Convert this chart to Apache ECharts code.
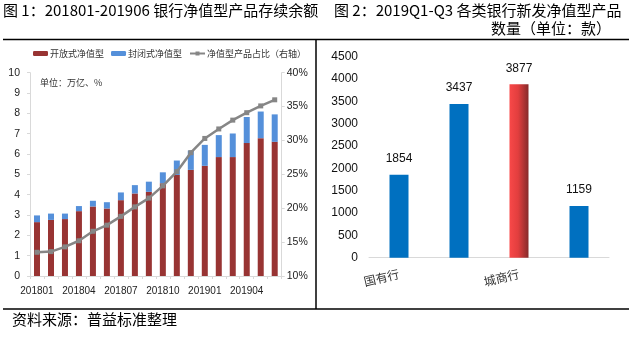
<!DOCTYPE html>
<html><head><meta charset="utf-8">
<script src="https://cdn.jsdelivr.net/npm/echarts@6/dist/echarts.min.js"></script>
<style>html,body{margin:0;padding:0;background:#fff}#c{width:636px;height:338px}</style>
</head><body><div id="c"></div>
<script>
const months = ['201801','201802','201803','201804','201805','201806','201807','201808','201809','201810','201811','201812','201901','201902','201903','201904','201905','201906'];
const openVals = [2.65,2.76,2.80,3.19,3.42,3.32,3.73,4.06,4.14,4.56,4.97,5.22,5.42,5.85,5.85,6.54,6.78,6.60];
const closedVals = [0.33,0.31,0.27,0.25,0.28,0.31,0.38,0.41,0.50,0.54,0.71,0.95,1.03,1.08,1.16,1.28,1.31,1.35];
const shareVals = [13.5,13.6,14.3,15.2,16.6,17.5,18.8,20.2,21.5,23.3,25.4,28.2,30.3,31.7,33.0,34.1,35.1,36.0];
const bankTypes = ['国有行','股份行','城商行','农商行'];
const newCounts = [1854,3437,3877,1159];
const leftTicks = {min:0,max:10,interval:1};
const rightTicks = {min:10,max:40,interval:5};
const cntTicks = {min:0,max:4500,interval:500};

const chart = echarts.init(document.getElementById('c'), null, {renderer:'canvas'});
const narrow = "'Liberation Sans Narrow','Arial Narrow','Liberation Sans',Arial,sans-serif";
const cjk = "'Noto Sans CJK SC',sans-serif";
const gridLine = {lineStyle:{color:'#D9D9D9',width:1}};
const titleStyle = (t, size) => ({text:t, fontSize:size, fontFamily:cjk, fill:'#000'});

chart.setOption({
  animation:false,
  legend:{
    left:28, top:44, itemWidth:15, itemHeight:5, itemGap:7,
    textStyle:{fontSize:9, color:'#333', fontFamily:cjk, padding:[0,0,0,-3]},
    data:['开放式净值型','封闭式净值型','净值型产品占比（右轴）']
  },
  grid:[
    {left:30, top:72.7, width:251.7, height:203.3},
    {left:369, top:56.5, width:240, height:201.2}
  ],
  xAxis:[
    {type:'category', gridIndex:0, data:months,
     axisLine:gridLine, axisTick:{show:true, interval:0, length:3, lineStyle:{color:'#D9D9D9'}},
     axisLabel:{interval:2, fontSize:10, color:'#222', fontFamily:narrow, margin:10}},
    {type:'category', gridIndex:1, data:bankTypes,
     axisLine:gridLine, axisTick:{show:false},
     axisLabel:{interval:1, rotate:13, fontSize:12, color:'#333', fontFamily:cjk, margin:16}}
  ],
  yAxis:[
    {type:'value', gridIndex:0, min:leftTicks.min, max:leftTicks.max, interval:leftTicks.interval,
     axisLine:{show:true, lineStyle:{color:'#D9D9D9'}}, axisTick:{show:true, length:3, lineStyle:{color:'#D9D9D9'}},
     splitLine:{show:false},
     axisLabel:{fontSize:10.5, color:'#222', fontFamily:narrow, margin:10}},
    {type:'value', gridIndex:0, position:'right', min:rightTicks.min, max:rightTicks.max, interval:rightTicks.interval,
     axisLine:{show:true, lineStyle:{color:'#D9D9D9'}}, axisTick:{show:true, length:3, lineStyle:{color:'#D9D9D9'}},
     splitLine:{show:false},
     axisLabel:{formatter:'{value}%', fontSize:10.5, color:'#222', fontFamily:narrow, margin:5}},
    {type:'value', gridIndex:1, min:cntTicks.min, max:cntTicks.max, interval:cntTicks.interval,
     axisLine:{show:false}, axisTick:{show:false}, splitLine:{show:false},
     axisLabel:{formatter:(v)=>String(v), fontSize:12, color:'#111', fontFamily:'Arial, Liberation Sans, sans-serif', margin:11}}
  ],
  series:[
    {name:'开放式净值型', type:'bar', stack:'s', xAxisIndex:0, yAxisIndex:0, data:openVals,
     barWidth:6, itemStyle:{color:'#983433'}},
    {name:'封闭式净值型', type:'bar', stack:'s', xAxisIndex:0, yAxisIndex:0, data:closedVals,
     barWidth:6, itemStyle:{color:'#5590DA'}},
    {name:'净值型产品占比（右轴）', type:'line', xAxisIndex:0, yAxisIndex:1, data:shareVals,
     symbol:'rect', symbolSize:5, lineStyle:{color:'#868686', width:2.5}, itemStyle:{color:'#868686'}},
    {name:'新发', type:'bar', xAxisIndex:1, yAxisIndex:2,
     data:newCounts.map((v,i)=> i===2 ? {value:v, itemStyle:{color:new echarts.graphic.LinearGradient(0,0,1,0,[{offset:0,color:'#F84848'},{offset:0.45,color:'#E23E3E'},{offset:1,color:'#862A2A'}])}} : v),
     barWidth:19, itemStyle:{color:'#0070C0'},
     label:{show:true, position:'top', distance:10, fontSize:12, color:'#111', fontFamily:'Arial, Liberation Sans, sans-serif'}}
  ],
  graphic:[
    {type:'text', left:3, top:3, style:titleStyle('图 1：201801-201906 银行净值型产品存续余额', 15)},
    {type:'text', left:334, top:3, style:titleStyle('图 2：2019Q1-Q3 各类银行新发净值型产品', 15)},
    {type:'text', right:25, top:21, style:titleStyle('数量（单位：款）', 15)},
    {type:'text', left:40, top:78, style:{text:'单位：万亿、%', fontSize:9, fontFamily:cjk, fill:'#333'}},
    {type:'text', left:12, top:312, style:titleStyle('资料来源：普益标准整理', 15)},
    {type:'line', shape:{x1:3,y1:39.5,x2:629,y2:39.5}, style:{stroke:'#000', lineWidth:1.5}},
    {type:'line', shape:{x1:3,y1:309,x2:629,y2:309}, style:{stroke:'#000', lineWidth:1.5}},
    {type:'line', shape:{x1:316,y1:39.5,x2:316,y2:309}, style:{stroke:'#000', lineWidth:1.5}}
  ]
});
</script></body></html>
